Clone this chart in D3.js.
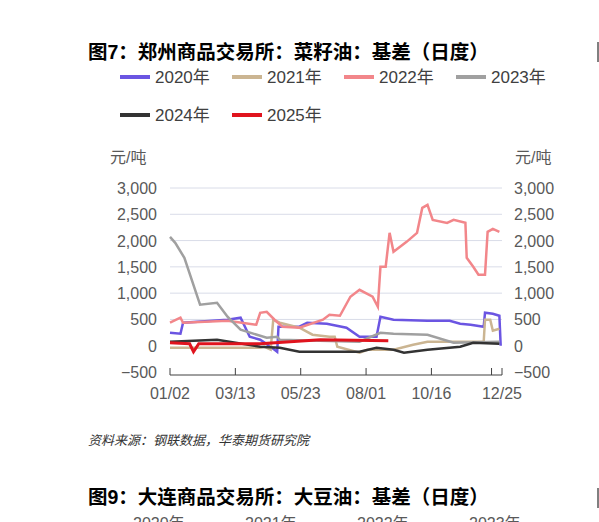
<!DOCTYPE html>
<html><head><meta charset="utf-8">
<script src="https://cdn.jsdelivr.net/npm/d3@7"></script>
<style>body{margin:0;background:#fff}svg{font-family:"Liberation Sans","Noto Sans CJK SC",sans-serif}</style>
</head><body><svg width="599" height="522"></svg>
<script>
// x = trading-day index, ticks every 50 days
const tickLabels = ["01/02", "03/13", "05/23", "08/01", "10/16", "12/25"];
const tickIdx = [0, 50, 100, 150, 200, 254];
const yTicks = [-500, 0, 500, 1000, 1500, 2000, 2500, 3000];
const years = ["2020年", "2021年", "2022年", "2023年", "2024年", "2025年"];
const colors = ["#6b55e2", "#cbb592", "#f2868a", "#a0a0a0", "#333333", "#e0141e"];

const s2020 = [[0,247],[8,228],[10,437],[44,494],[54,532],[61,171],[69,114],[77,-19],[82,-114],[83,361],[99,361],[105,437],[120,418],[135,342],[145,171],[158,171],[161,551],[171,494],[197,475],[214,475],[222,418],[230,399],[240,361],[241,627],[247,608],[252,570],[253,0]];
const s2021 = [[0,-38],[69,-38],[72,-19],[77,-76],[79,494],[84,437],[99,342],[109,209],[122,171],[126,171],[128,-19],[145,-133],[151,-76],[171,-76],[186,19],[197,76],[240,76],[241,494],[245,494],[247,285],[252,323]];
const s2022 = [[0,437],[8,532],[10,437],[44,475],[66,399],[69,627],[74,646],[80,494],[86,361],[99,342],[117,494],[122,589],[130,570],[138,931],[145,1064],[155,931],[159,741],[161,1501],[165,1501],[168,2147],[171,1786],[181,1976],[189,2147],[193,2622],[197,2679],[201,2394],[212,2337],[217,2394],[226,2337],[227,1672],[232,1501],[236,1349],[241,1349],[243,2166],[247,2223],[252,2166]];
const s2023 = [[0,2071],[4,1957],[11,1672],[23,779],[36,817],[44,551],[54,304],[74,152],[82,171],[84,114],[145,76],[161,247],[171,228],[197,209],[217,57],[252,76]];
const s2024 = [[0,76],[36,114],[69,-19],[84,-38],[99,-114],[145,-114],[158,-38],[171,-76],[179,-133],[197,-76],[222,-19],[232,57],[252,38]];
const s2025 = [[0,57],[15,38],[18,-114],[22,38],[69,38],[115,114],[167,95]];
const series = [s2020, s2021, s2022, s2023, s2024, s2025];

const svg = d3.select("svg");
const x = d3.scaleLinear().domain([0, 254]).range([170, 502]);
const y = d3.scaleLinear().domain([-500, 3000]).range([372, 188]);

svg.append("text").attr("x", 88).attr("y", 59).attr("font-size", 19.5).attr("font-weight", "bold")
  .text("图7：郑州商品交易所：菜籽油：基差（日度）");
svg.append("text").attr("x", 88).attr("y", 504).attr("font-size", 19.5).attr("font-weight", "bold")
  .text("图9：大连商品交易所：大豆油：基差（日度）");
["2020年", "2021年", "2022年", "2023年"].forEach((t, i) => {
  svg.append("text").attr("x", 133 + i * 112).attr("y", 529).attr("font-size", 16).attr("fill", "#595959").text(t);
});
svg.append("line").attr("x1", 598).attr("x2", 598).attr("y1", 42).attr("y2", 62).attr("stroke", "#000");
svg.append("line").attr("x1", 598).attr("x2", 598).attr("y1", 488).attr("y2", 508).attr("stroke", "#000");

// legend
years.forEach((t, i) => {
  const lx = 120 + (i % 4) * 112, ly = i < 4 ? 77 : 115;
  svg.append("line").attr("x1", lx).attr("x2", lx + 30).attr("y1", ly).attr("y2", ly)
    .attr("stroke", colors[i]).attr("stroke-width", 4);
  svg.append("text").attr("x", lx + 35).attr("y", ly + 6).attr("font-size", 17).attr("fill", "#404040").text(t);
});

svg.append("text").attr("x", 110).attr("y", 163).attr("font-size", 16).attr("fill", "#595959").text("元/吨");
svg.append("text").attr("x", 515).attr("y", 163).attr("font-size", 16).attr("fill", "#595959").text("元/吨");

svg.append("g").selectAll("line").data(yTicks.filter(d => d > 0)).join("line")
  .attr("x1", 170).attr("x2", 502).attr("y1", d => y(d)).attr("y2", d => y(d))
  .attr("stroke", "#d9dce8");

const fmt = d3.format(",");
svg.append("g").selectAll("text").data(yTicks).join("text")
  .attr("x", 157).attr("y", d => y(d) + 6).attr("text-anchor", "end")
  .attr("font-size", 16).attr("fill", "#595959").text(d => fmt(d));
svg.append("g").selectAll("text").data(yTicks).join("text")
  .attr("x", 514).attr("y", d => y(d) + 6)
  .attr("font-size", 16).attr("fill", "#595959").text(d => fmt(d));

const axis = svg.append("g");
axis.append("line").attr("x1", 170).attr("x2", 502).attr("y1", 375).attr("y2", 375).attr("stroke", "#404040");
axis.selectAll(".t").data(tickIdx.concat([246])).join("line")
  .attr("x1", d => x(d)).attr("x2", d => x(d)).attr("y1", 368).attr("y2", 375).attr("stroke", "#404040");
axis.selectAll("text").data(tickIdx).join("text")
  .attr("x", d => x(d)).attr("y", 399).attr("text-anchor", "middle")
  .attr("font-size", 16).attr("fill", "#595959").text((d, i) => tickLabels[i]);

const line = d3.line().x(d => x(d[0])).y(d => y(d[1]));
series.forEach((s, i) => {
  svg.append("path").attr("d", line(s)).attr("fill", "none")
    .attr("stroke", colors[i]).attr("stroke-width", i === 5 ? 3 : 2.5);
});

svg.append("text").attr("x", 88).attr("y", 445).attr("font-size", 13).attr("font-style", "italic")
  .attr("fill", "#333").text("资料来源：钢联数据，华泰期货研究院");
</script></body></html>
